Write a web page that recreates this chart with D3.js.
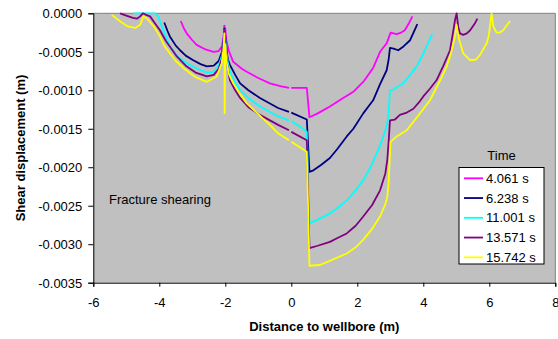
<!DOCTYPE html>
<html><head><meta charset="utf-8">
<script src="https://cdn.jsdelivr.net/npm/d3@7"></script>
<style>body{margin:0;background:#fff}svg{display:block;font-family:"Liberation Sans",Arial,sans-serif}</style>
</head><body><svg id="c" width="558" height="339"></svg>
<script>
const seriesNames = ["4.061 s","6.238 s","11.001 s","13.571 s","15.742 s"];
const seriesColors = ["#FF00FF","#000080","#00FFFF","#800080","#FFFF00"];
const xTicks = [-6,-4,-2,0,2,4,6,8];
const yTicks = [0,-0.0005,-0.001,-0.0015,-0.002,-0.0025,-0.003,-0.0035];
const G = null; // gap in the line
const s4061 = [[-3.35,-0.0001],[-3.25,-0.0002],[-3.17,-0.00026],[-3.0,-0.00035],[-2.87,-0.00041],[-2.6,-0.00047],[-2.36,-0.0005],[-2.2,-0.00049],[-2.1,-0.00043],[-2.05,-0.0003],[-2.03,-0.00016],[-2.0,-0.0002],[-1.97,-0.00035],[-1.9,-0.00048],[-1.76,-0.00063],[-1.5,-0.00072],[-1.35,-0.00076],[-1.0,-0.00084],[-0.65,-0.00091],[-0.3,-0.00095],[-0.07,-0.00097],G,[0.0,-0.00097],[0.47,-0.00097],[0.55,-0.00135],[0.8,-0.0013],[1.17,-0.00121],[1.5,-0.00112],[1.88,-0.00102],[2.2,-0.00088],[2.48,-0.00071],[2.69,-0.0005],[2.89,-0.00039],[2.96,-0.00031],[3.01,-0.00025],[3.1,-0.00026],[3.19,-0.00027],[3.33,-0.00025],[3.44,-0.00022],[3.55,-0.00014],[3.67,-0.00004]];
const s6238 = [[-3.85,-0.00012],[-3.75,-0.00023],[-3.68,-0.0003],[-3.5,-0.00042],[-3.37,-0.00048],[-3.2,-0.00055],[-2.97,-0.00061],[-2.75,-0.00066],[-2.56,-0.00069],[-2.35,-0.00068],[-2.2,-0.00062],[-2.1,-0.0005],[-2.05,-0.00035],[-2.03,-0.0002],[-2.0,-0.0003],[-1.97,-0.00045],[-1.92,-0.0006],[-1.86,-0.00067],[-1.7,-0.0008],[-1.55,-0.00091],[-1.3,-0.001],[-0.95,-0.0011],[-0.4,-0.00123],[-0.07,-0.00128],G,[0.0,-0.00129],[0.47,-0.00138],[0.55,-0.00206],[0.67,-0.00204],[0.9,-0.00197],[1.17,-0.00188],[1.4,-0.00176],[1.68,-0.0016],[1.88,-0.0015],[2.18,-0.0013],[2.48,-0.00113],[2.69,-0.00092],[2.89,-0.00074],[2.95,-0.0006],[2.99,-0.00045],[3.1,-0.00046],[3.24,-0.00048],[3.4,-0.00043],[3.6,-0.00035],[3.82,-0.00014]];
const s11001 = [[-4.79,0],[-4.13,0],[-4.03,-0.00004],[-3.9,-0.0002],[-3.8,-0.0003],[-3.68,-0.00043],[-3.45,-0.00056],[-3.17,-0.00065],[-2.85,-0.00072],[-2.56,-0.00077],[-2.35,-0.00076],[-2.2,-0.00068],[-2.1,-0.00055],[-2.05,-0.0004],[-2.03,-0.00022],[-2.0,-0.00035],[-1.97,-0.0005],[-1.92,-0.00065],[-1.86,-0.00076],[-1.7,-0.0009],[-1.55,-0.001],[-1.3,-0.0011],[-0.95,-0.00121],[-0.4,-0.00134],[-0.07,-0.00139],G,[0.0,-0.0014],[0.36,-0.0015],[0.47,-0.00154],[0.55,-0.00273],[0.8,-0.00268],[1.17,-0.0026],[1.4,-0.00253],[1.68,-0.00243],[1.95,-0.0023],[2.18,-0.00217],[2.4,-0.002],[2.59,-0.00182],[2.75,-0.00165],[2.89,-0.00147],[2.95,-0.0013],[2.99,-0.001],[3.09,-0.00099],[3.2,-0.00096],[3.39,-0.00091],[3.6,-0.0008],[3.8,-0.00069],[3.95,-0.00057],[4.1,-0.00043],[4.27,-0.00027]];
const s13571 = [[-5.19,0],[-5.0,-0.00003],[-4.8,-0.00006],[-4.68,-0.00007],[-4.58,-0.00004],[-4.5,0],[-4.4,-0.00002],[-4.28,-0.00004],[-4.15,-0.00012],[-3.98,-0.00022],[-3.8,-0.00036],[-3.6,-0.00048],[-3.47,-0.00056],[-3.2,-0.00068],[-2.9,-0.00077],[-2.56,-0.00082],[-2.35,-0.0008],[-2.2,-0.00072],[-2.1,-0.00058],[-2.05,-0.0004],[-2.03,-0.00022],[-2.0,-0.0004],[-1.97,-0.00058],[-1.92,-0.00073],[-1.86,-0.00087],[-1.7,-0.001],[-1.55,-0.0011],[-1.3,-0.00122],[-0.95,-0.00132],[-0.4,-0.00145],[-0.07,-0.00152],G,[0.0,-0.00154],[0.47,-0.00165],[0.55,-0.00305],[0.8,-0.00302],[1.17,-0.00297],[1.4,-0.00292],[1.68,-0.00286],[1.95,-0.00276],[2.18,-0.00264],[2.45,-0.00249],[2.69,-0.0023],[2.85,-0.00208],[2.91,-0.0019],[2.96,-0.0016],[2.99,-0.00139],[3.14,-0.00138],[3.29,-0.00132],[3.5,-0.00129],[3.7,-0.00124],[3.9,-0.00114],[4.0,-0.00108],[4.2,-0.00098],[4.4,-0.00087],[4.6,-0.00069],[4.81,-0.00048],[4.92,-0.0002],[4.96,-0.00009],[5.01,0],[5.06,-0.00018],[5.11,-0.00026],[5.21,-0.00028],[5.32,-0.00026],[5.42,-0.00022],[5.55,-0.00014],[5.64,-0.00007]];
const s15742 = [[-5.44,-0.00002],[-5.2,-0.0001],[-4.95,-0.00017],[-4.73,-0.00019],[-4.58,-0.00015],[-4.5,-0.00006],[-4.48,-0.00004],[-4.4,-0.00006],[-4.33,-0.00009],[-4.15,-0.00018],[-3.98,-0.0003],[-3.85,-0.00042],[-3.68,-0.00052],[-3.5,-0.00062],[-3.27,-0.00071],[-2.9,-0.00083],[-2.56,-0.00089],[-2.26,-0.00082],[-2.11,-0.00065],[-2.05,-0.00045],[-2.03,-0.00026],[-2.02,-0.0013],[-2.0,-0.0004],[-1.97,-0.0006],[-1.9,-0.00078],[-1.76,-0.00091],[-1.55,-0.00105],[-1.35,-0.00117],[-1.0,-0.00131],[-0.65,-0.00145],[-0.4,-0.00156],[-0.07,-0.00165],G,[0.0,-0.00167],[0.47,-0.0018],[0.55,-0.00328],[0.87,-0.00327],[1.2,-0.00321],[1.68,-0.00312],[1.95,-0.00304],[2.18,-0.00294],[2.45,-0.0028],[2.69,-0.00264],[2.85,-0.00248],[2.91,-0.00238],[2.95,-0.0022],[2.97,-0.00199],[3.01,-0.00167],[3.19,-0.0016],[3.5,-0.00152],[3.9,-0.0013],[4.2,-0.00113],[4.5,-0.00088],[4.71,-0.00069],[4.85,-0.0005],[4.96,-0.0003],[5.01,-0.00015],[5.05,-0.00027],[5.09,-0.00035],[5.21,-0.00052],[5.42,-0.00061],[5.6,-0.0006],[5.72,-0.00054],[5.92,-0.00039],[5.98,-0.0003],[6.02,-0.00017],[6.07,0],[6.12,-0.00017],[6.22,-0.00025],[6.32,-0.00025],[6.42,-0.00022],[6.63,-0.0001]];
const seriesData = [s4061,s6238,s11001,s13571,s15742];

const svg = d3.select("#c");
const L = 93.3, R = 555.3, T = 13.3, B = 282.7;
const x = d3.scaleLinear().domain([-6,8]).range([L,R]);
const y = d3.scaleLinear().domain([-0.0035,0]).range([B,T]);

svg.append("rect").attr("x",L).attr("y",T).attr("width",R-L).attr("height",B-T).attr("fill","#C0C0C0");
svg.append("path").attr("d",`M${L},${T}H${R}V${B}`).attr("fill","none").attr("stroke","#808080").attr("stroke-width",1);

svg.append("clipPath").attr("id","clip").append("rect").attr("x",L).attr("y",T-2).attr("width",R-L).attr("height",B-T+2);
const line = d3.line().defined(d=>d!==null).x(d=>x(d[0])).y(d=>y(d[1]));
const gl = svg.append("g").attr("clip-path","url(#clip)");
seriesData.forEach((s,i)=>{
  gl.append("path").attr("d",line(s)).attr("fill","none").attr("stroke",seriesColors[i]).attr("stroke-width",1.8).attr("stroke-linejoin","round");
});

const fmt = d3.format(".4f");
const ya = svg.append("g").attr("transform",`translate(${L},0)`)
  .call(d3.axisLeft(y).tickValues(yTicks).tickSize(5).tickPadding(6).tickFormat(d=>fmt(d).replace("−","-")));
const xa = svg.append("g").attr("transform",`translate(0,${B})`)
  .call(d3.axisBottom(x).tickValues(xTicks).tickSize(4).tickPadding(11).tickFormat(d=>String(d)));
[ya,xa].forEach(a=>{
  a.select(".domain").attr("stroke","#000");
  a.selectAll(".tick line").attr("stroke","#000");
  a.selectAll("text").attr("font-size",13).attr("fill","#000").attr("font-family","'Liberation Sans',Arial,sans-serif");
});
ya.selectAll("text").attr("dy","0.35em");

svg.append("text").attr("transform",`translate(25,${(T+B)/2}) rotate(-90)`).attr("text-anchor","middle")
  .attr("font-size",13).attr("font-weight","bold").text("Shear displacement (m)");
svg.append("text").attr("x",(L+R)/2).attr("y",331).attr("text-anchor","middle")
  .attr("font-size",13).attr("font-weight","bold").text("Distance to wellbore (m)");
svg.append("text").attr("x",109).attr("y",204).attr("font-size",13).text("Fracture shearing");

// legend
const lgX = 459, lgY = 167.5, lgW = 85, lgH = 96.5;
svg.append("text").attr("x",lgX+lgW/2).attr("y",160).attr("text-anchor","middle").attr("font-size",13).text("Time");
svg.append("rect").attr("x",lgX).attr("y",lgY).attr("width",lgW).attr("height",lgH).attr("fill","#fff").attr("stroke","#000").attr("stroke-width",1);
seriesNames.forEach((n,i)=>{
  const yy = 178.3 + i*19.75;
  svg.append("line").attr("x1",464).attr("x2",483).attr("y1",yy).attr("y2",yy).attr("stroke",seriesColors[i]).attr("stroke-width",1.8);
  svg.append("text").attr("x",486).attr("y",yy).attr("dy","0.36em").attr("font-size",13).text(n);
});
</script></body></html>
